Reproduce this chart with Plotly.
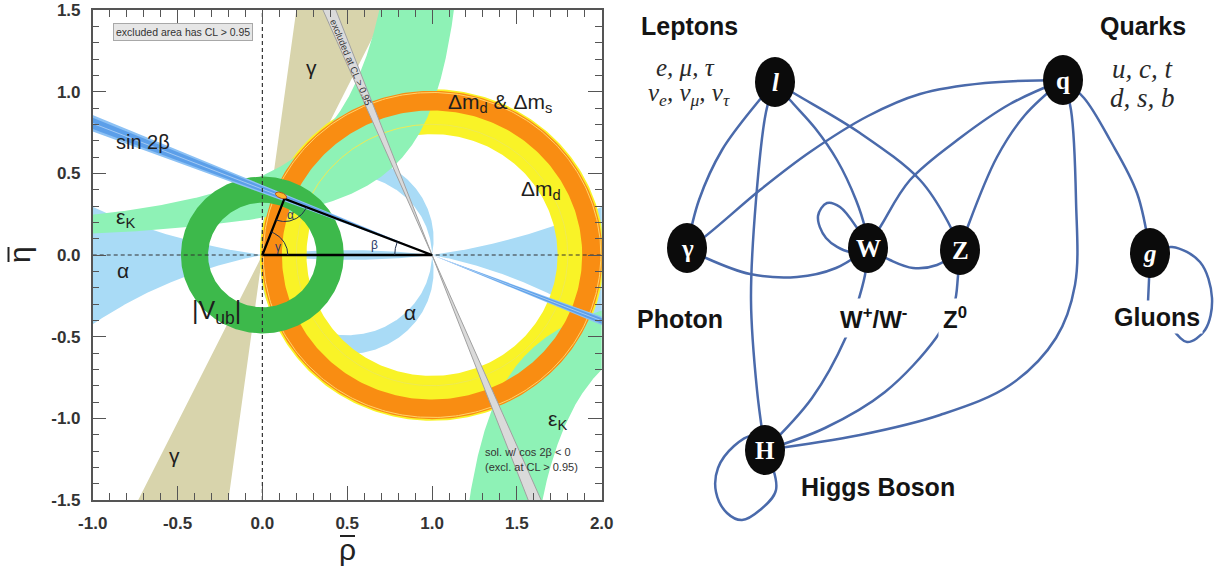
import numpy as np
import plotly.graph_objects as go

# ---------------- CKM fit: constraints in the (rho_bar, eta_bar) plane ----------------
APEX = (0.13, 0.345)                 # fitted apex of the unitarity triangle
VUB_RING = (0.32, 0.48)              # |Vub| ring radii around (0, 0)
DMD_RING = (0.74, 1.015)             # Delta m_d ring radii around (1, 0)
DMDS_RING = (0.885, 1.005)           # Delta m_d & Delta m_s ring radii around (1, 0)
SIN2B_BAND = (20.7, 23.2)            # beta range (deg), wedge through (1, 0)
SIN2B_CORE = (21.1, 22.8)
COS2B_EXCL = (66.8, 69.3)            # excluded cos 2beta < 0 solution (deg)
GAMMA_BAND = (64.0, 82.4)            # gamma range (deg), wedge through (0, 0)
ALPHA_MAIN = (79.0, 91.0)            # alpha range (deg)
ALPHA_NEAR_ZERO = (8.0, 11.0)        # upper / lower edge of the alpha ~ 0 solution
ALPHA_NEAR_PI = 173.0                # alpha ~ 180 solution
EPSK_UPPER = [(1.332, 0.303), (1.02, 0.495)]   # edges eta*(a - rho) = k
EPSK_LOWER = [(0.991, 0.343), (1.344, 0.459)]

X_TICKS = [-1.0, -0.5, 0.0, 0.5, 1.0, 1.5, 2.0]
Y_TICKS = [-1.5, -1.0, -0.5, 0.0, 0.5, 1.0, 1.5]

# ---------------- particle interaction graph ----------------
NODE_NAMES = ["l", "q", "gamma", "W", "Z", "g", "H"]
NODE_X = [775, 1063, 687, 868, 960, 1150, 765]
NODE_Y = [82, 80, 248, 248, 250, 253, 450]
NODE_GLYPHS = ["<i>l</i>", "q", "γ", "W", "Z", "<i>g</i>", "H"]

EDGES = [
    ("l", [(757, 103), (722, 150), (699, 200)], "gamma"),
    ("l", [(766, 112), (756, 200), (751, 300), (757, 390)], "H"),
    ("l", [(790, 100), (815, 128), (837, 160), (856, 200), (865, 228)], "W"),
    ("l", [(797, 95), (860, 133), (920, 180), (948, 222)], "Z"),
    ("gamma", [(703, 238), (760, 190), (810, 152), (868, 116), (920, 94), (985, 83)], "q"),
    ("gamma", [(706, 258), (750, 274), (797, 277), (836, 268)], "W"),
    ("W", [(857, 228), (840, 207), (827, 203), (818, 216), (826, 238), (850, 252)], "W"),
    ("W", [(890, 260), (913, 268), (937, 265)], "Z"),
    ("W", [(882, 224), (910, 180), (960, 138), (1010, 104)], "q"),
    ("Z", [(968, 226), (997, 157), (1025, 115)], "q"),
    ("q", [(1084, 98), (1110, 140), (1137, 193)], "g"),
    ("q", [(1071, 110), (1076, 200), (1075, 285), (1056, 338), (1010, 385), (940, 415), (860, 435)], "H"),
    ("W", [(865, 275), (857, 305), (846, 337), (812, 398)], "H"),
    ("Z", [(958, 276), (954, 305), (936, 338), (885, 392), (825, 428)], "H"),
    ("g", [(1149, 280)], (1148, 302)),
    ("g", [(1172, 247), (1200, 262), (1212, 298), (1205, 330), (1187, 342)], (1172, 328)),
    ("H", [(752, 436), (734, 446), (718, 468), (716, 492), (727, 513), (742, 520), (760, 510), (776, 490)], "H"),
]

# ---------------- geometry helpers ----------------
def circle(cx, cy, r, t0=0.0, t1=2 * np.pi, n=361):
    t = np.linspace(t0, t1, n)
    return cx + r * np.cos(t), cy + r * np.sin(t)


def annulus(cx, cy, r_in, r_out, n=361):
    xo, yo = circle(cx, cy, r_out, n=n)
    xi, yi = circle(cx, cy, r_in, 2 * np.pi, 0.0, n=n)
    return np.concatenate([xo, xi]), np.concatenate([yo, yi])


def inscribed_arc(alpha_deg, n=300):
    """Arc through (1,0) -> (0,0) on which the angle at the vertex equals alpha."""
    a = np.radians(alpha_deg)
    cy, r = 0.5 / np.tan(a), 0.5 / np.sin(a)
    tb = np.arctan2(-cy, 0.5)
    t = np.linspace(tb, np.pi - tb, n)
    return 0.5 + r * np.cos(t), cy + r * np.sin(t)


def near_axis_eta(alpha_deg, rho):
    a = np.radians(alpha_deg)
    cy, r = 0.5 / np.tan(a), 0.5 / np.sin(a)
    return cy - np.sqrt(r ** 2 - (rho - 0.5) ** 2)


def join(*parts):
    xs, ys = [], []
    for px, py in parts:
        xs += list(px) + [None]
        ys += list(py) + [None]
    return xs, ys


def wedge(x0, y0, angles_deg, both=True, length=4.0):
    parts = []
    d = [np.radians(a) for a in angles_deg]
    for s in ([1, -1] if both else [1]):
        px = [x0, x0 + s * length * np.cos(d[0]), x0 + s * length * np.cos(d[1])]
        py = [y0, y0 + s * length * np.sin(d[0]), y0 + s * length * np.sin(d[1])]
        parts.append((px, py))
    return join(*parts)


def spline_points(src, mids, dst, pos):
    p0 = pos[src]
    p1 = pos[dst] if isinstance(dst, str) else dst
    pts = [p0] + list(mids) + [p1]
    return [p[0] for p in pts], [p[1] for p in pts]


fig = go.Figure()


def band(x, y, color, xa="x", ya="y"):
    fig.add_trace(go.Scatter(x=x, y=y, mode="lines", fill="toself", fillcolor=color,
                             line=dict(width=0, color=color), hoverinfo="skip",
                             showlegend=False, xaxis=xa, yaxis=ya))


def line(x, y, color, width=1.0, dash=None, shape="linear", xa="x", ya="y"):
    fig.add_trace(go.Scatter(x=x, y=y, mode="lines",
                             line=dict(color=color, width=width, dash=dash, shape=shape,
                                       smoothing=1.0 if shape == "spline" else None),
                             hoverinfo="skip", showlegend=False, xaxis=xa, yaxis=ya))


# ---- alpha (light blue) ----
ux1, uy1 = inscribed_arc(ALPHA_MAIN[0])
ux2, uy2 = inscribed_arc(ALPHA_MAIN[1])
up = (np.concatenate([ux1, ux2[::-1]]), np.concatenate([uy1, uy2[::-1]]))
down = (up[0], -up[1])
rl = np.linspace(0.0, -1.2, 200)
left = (np.concatenate([rl, rl[::-1]]),
        np.concatenate([near_axis_eta(ALPHA_NEAR_ZERO[0], rl),
                        -near_axis_eta(ALPHA_NEAR_ZERO[1], rl[::-1])]))
rr = np.linspace(1.0, 2.2, 200)
right = (np.concatenate([rr, rr[::-1]]),
         np.concatenate([near_axis_eta(ALPHA_NEAR_ZERO[0], rr),
                         -near_axis_eta(ALPHA_NEAR_ZERO[1], rr[::-1])]))
rm = np.linspace(0.0, 1.0, 200)
a_pi = np.radians(ALPHA_NEAR_PI)
strip_top = 0.5 / np.tan(a_pi) + np.sqrt((0.5 / np.sin(a_pi)) ** 2 - (rm - 0.5) ** 2)
strip = (np.concatenate([rm, rm[::-1]]), np.concatenate([strip_top, -strip_top[::-1]]))
band(*join(up, down, left, right, strip), "#a9dbf6")

# ---- gamma (khaki) ----
band(*wedge(0.0, 0.0, GAMMA_BAND), "#d8d4ac")

# ---- Delta m_d (yellow) ----
band(*annulus(1.0, 0.0, *DMD_RING), "#f9f327")

# ---- epsilon_K (light green) ----
eps_parts = []
(a1, k1), (a2, k2) = EPSK_UPPER
e1 = np.linspace(k1 / (a1 + 1.2), 1.7, 600)
e2 = np.linspace(k2 / (a2 + 1.2), 1.7, 600)
eps_parts.append((np.concatenate([a1 - k1 / e1, (a2 - k2 / e2)[::-1]]),
                  np.concatenate([e1, e2[::-1]])))
(a1, k1), (a2, k2) = EPSK_LOWER
e1 = np.linspace(-1.7, -k1 / (2.2 - a1), 600)
e2 = np.linspace(-1.7, -k2 / (2.2 - a2), 600)
eps_parts.append((np.concatenate([a1 - k1 / e1, (a2 - k2 / e2)[::-1]]),
                  np.concatenate([e1, e2[::-1]])))
band(*join(*eps_parts), "#8ef2b6")
line(*circle(1.0, 0.0, 0.80), "#eeea55", 1.0)

# ---- Delta m_d & Delta m_s (orange) ----
band(*annulus(1.0, 0.0, *DMDS_RING), "#f98d12")
line(*circle(1.0, 0.0, 0.995), "#ffd36b", 1.0)

# ---- |Vub| (green) ----
band(*annulus(0.0, 0.0, *VUB_RING), "#3db94b")

# ---- sin 2beta (blue) ----
flip = lambda ang: [180.0 - ang[0], 180.0 - ang[1]]
band(*wedge(1.0, 0.0, flip(SIN2B_BAND)), "#8cc1f4")
band(*wedge(1.0, 0.0, flip(SIN2B_CORE)), "#5c9fe9")
mid_b = np.radians(180.0 - 0.5 * sum(SIN2B_BAND))
line([1 - 4 * np.cos(np.pi - mid_b), 1 + 4 * np.cos(np.pi - mid_b)],
     [4 * np.sin(mid_b), -4 * np.sin(mid_b)], "rgba(255,255,255,0.55)", 0.8)

# ---- excluded second solution (grey) ----
band(*wedge(1.0, 0.0, flip(COS2B_EXCL)), "#dadada")
for ang in flip(COS2B_EXCL):
    t = np.radians(ang)
    line([1 - 4 * np.cos(t), 1 + 4 * np.cos(t)], [-4 * np.sin(t), 4 * np.sin(t)], "#a0a0a0", 1.0)

# ---- dashed axes ----
line([0, 0], [-1.5, 1.5], "#333333", 1.2, dash="4px,3px")
line([-1, 2], [0, 0], "#333333", 1.2, dash="4px,3px")

# ---- unitarity triangle, apex and angles ----
ar, ae = APEX
line([0, 1, ar, 0], [0, 0, ae, 0], "#000000", 2.3)
th = np.linspace(0, 2 * np.pi, 60)
rot = np.radians(-22)
ex, ey = 0.035 * np.cos(th), 0.017 * np.sin(th)
fig.add_trace(go.Scatter(x=ar - 0.02 + ex * np.cos(rot) - ey * np.sin(rot),
                         y=ae + 0.02 + ex * np.sin(rot) + ey * np.cos(rot),
                         mode="lines", fill="toself", fillcolor="#ffb52a",
                         line=dict(color="#b5521c", width=1), hoverinfo="skip", showlegend=False))
g_ang = np.arctan2(ae, ar)
line(*circle(0, 0, 0.15, 0, g_ang, 40), "#20304f", 1.0)
t_o, t_b = np.arctan2(-ae, -ar), np.arctan2(-ae, 1 - ar)
line(*circle(ar, ae, 0.14, t_o, t_b + 2 * np.pi * (t_b < t_o), 40), "#20304f", 1.0)
line(*circle(1, 0, 0.22, np.pi - np.arctan2(ae, 1 - ar), np.pi, 40), "#20304f", 1.0)

# ---- particle graph edges ----
pos = {n: (x, y) for n, x, y in zip(NODE_NAMES, NODE_X, NODE_Y)}
for src, mids, dst in EDGES:
    ex_, ey_ = spline_points(src, mids, dst, pos)
    line(ex_, ey_, "#4a6aab", 2.5, shape="spline", xa="x2", ya="y2")

shapes = []
for x, y in zip(NODE_X, NODE_Y):
    shapes.append(dict(type="circle", xref="x2", yref="y2", x0=x - 20, x1=x + 20,
                       y0=y - 25, y1=y + 25, fillcolor="#0b0b0b", line=dict(width=0), layer="above"))

# overbars of the axis titles (rho_bar below the x axis, eta_bar left of the y axis)
PX, PY = 1 / 1219, 1 / 569
shapes.append(dict(type="line", xref="paper", yref="paper", x0=340 * PX, x1=355 * PX,
                   y0=1 - 536 * PY, y1=1 - 536 * PY, line=dict(color="#222222", width=2)))
shapes.append(dict(type="line", xref="paper", yref="paper", x0=8.5 * PX, x1=8.5 * PX,
                   y0=1 - 247 * PY, y1=1 - 262 * PY, line=dict(color="#222222", width=2)))

# ---------------- annotations ----------------
SANS = "Liberation Sans"
SERIF = "Liberation Serif"
ann = []


def txt(x, y, text, size, color="#1e1e1e", family=SANS, xref="x", yref="y", **kw):
    opts = dict(xanchor="center", yanchor="middle")
    opts.update(kw)
    ann.append(dict(x=x, y=y, xref=xref, yref=yref, text=text, showarrow=False,
                    font=dict(family=family, size=size, color=color), **opts))


# left panel labels
txt(-0.704, 0.692, "sin 2β", 20)
txt(-0.805, 0.227, "ε<sub>K</sub>", 21)
txt(-0.82, -0.092, "α", 21)
txt(-0.273, -0.349, "|V<sub>ub</sub>|", 25)
txt(0.292, 1.145, "γ", 21)
txt(-0.515, -1.225, "γ", 21)
txt(1.40, 0.93, "Δm<sub>d</sub> &amp; Δm<sub>s</sub>", 21)
txt(1.642, 0.398, "Δm<sub>d</sub>", 21)
txt(0.87, -0.349, "α", 21)
txt(1.742, -1.01, "ε<sub>K</sub>", 21)
txt(1.30, -1.205, "sol. w/ cos 2β &lt; 0", 11, "#333333", xanchor="left")
txt(1.30, -1.30, "(excl. at CL &gt; 0.95)", 11, "#333333", xanchor="left")
txt(0.5245, 1.18, "excluded at CL &gt; 0.95", 9.5, "#333333", textangle=67)
txt(-0.468, 1.3625, "excluded area has CL &gt; 0.95", 10.5, "#333333",
    bgcolor="#e6e6e6", bordercolor="#a8a8a8", borderwidth=1, borderpad=2)
txt(0.094, 0.051, "γ", 12, "#2b3a67")
txt(0.163, 0.245, "α", 12, "#2b3a67")
txt(0.663, 0.061, "β", 12, "#2b3a67")
txt(347 * PX, 1 - 549 * PY, "ρ", 30, "#222222", xref="paper", yref="paper")
txt(19 * PX, 1 - 255 * PY, "η", 30, "#222222", xref="paper", yref="paper", textangle=-90)

# right panel labels
R = dict(xref="x2", yref="y2")
txt(689, 26, "<b>Leptons</b>", 25, "#141414", **R)
txt(1143, 26, "<b>Quarks</b>", 25, "#141414", **R)
txt(685, 67, "<i>e, μ, τ</i>", 25, "#2a2a2a", family=SERIF, **R)
txt(689, 94, "<i>ν<sub>e</sub>, ν<sub>μ</sub>, ν<sub>τ</sub></i>", 25, "#2a2a2a", family=SERIF, **R)
txt(1142, 69, "<i>u, c, t</i>", 27, "#2a2a2a", family=SERIF, **R)
txt(1142, 98, "<i>d, s, b</i>", 27, "#2a2a2a", family=SERIF, **R)
txt(680, 319, "<b>Photon</b>", 25, "#141414", **R)
txt(873, 318, "<b>W<sup>+</sup>/W<sup>-</sup></b>", 24, "#141414", bgcolor="white", borderpad=4, **R)
txt(955, 318, "<b>Z<sup>0</sup></b>", 24, "#141414", bgcolor="white", borderpad=4, **R)
txt(1157, 317, "<b>Gluons</b>", 25, "#141414", bgcolor="white", borderpad=2, **R)
txt(878, 487, "<b>Higgs Boson</b>", 25, "#141414", **R)
for x, y, g in zip(NODE_X, NODE_Y, NODE_GLYPHS):
    txt(x, y, f"<b>{g}</b>", 25, "white", family=SERIF, **R)

axis_common = dict(
    ticks="inside", ticklen=14, tickwidth=1.3, tickcolor="#555555",
    minor=dict(dtick=0.1, ticks="inside", ticklen=7, tickwidth=1.1, tickcolor="#555555", showgrid=False),
    showline=True, linecolor="#555555", linewidth=1.5, mirror="ticks",
    showgrid=False, zeroline=False, fixedrange=True, automargin=False,
    tickfont=dict(family=SANS, size=17, color="#333333"), ticklabelstandoff=7,
)

fig.update_layout(
    width=1219, height=569, margin=dict(l=0, r=0, t=0, b=0, autoexpand=False),
    paper_bgcolor="white", plot_bgcolor="white", showlegend=False,
    xaxis=dict(domain=[92.7 / 1219, 601.7 / 1219], range=[-1, 2], tickvals=X_TICKS,
               ticktext=[f"<b>{v:.1f}</b>" for v in X_TICKS], anchor="y", **axis_common),
    yaxis=dict(domain=[1 - 500 / 569, 1 - 10 / 569], range=[-1.5, 1.5], tickvals=Y_TICKS,
               ticktext=[f"<b>{v:.1f}</b>" for v in Y_TICKS], anchor="x", **axis_common),
    xaxis2=dict(domain=[610 / 1219, 1.0], range=[610, 1219], visible=False, anchor="y2",
                fixedrange=True, automargin=False),
    yaxis2=dict(domain=[0, 1], range=[569, 0], visible=False, anchor="x2",
                fixedrange=True, automargin=False),
    shapes=shapes, annotations=ann,
)

fig.write_html("out.html")
